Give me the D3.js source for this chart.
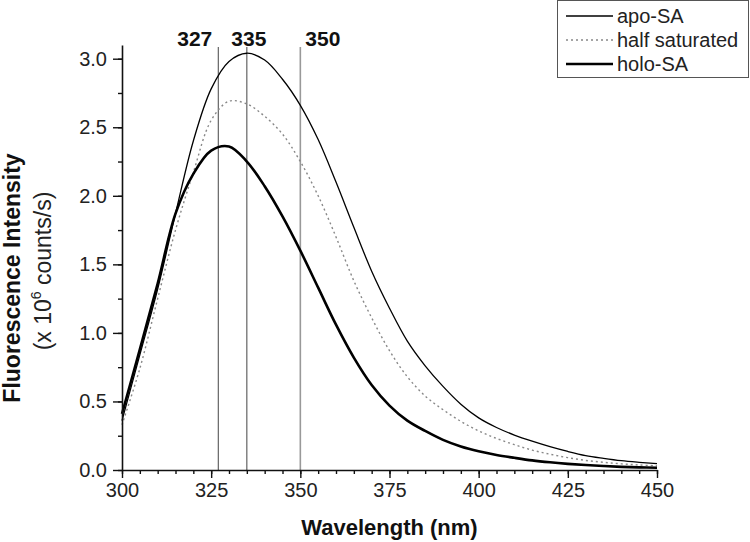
<!DOCTYPE html>
<html>
<head>
<meta charset="utf-8">
<script src="https://cdn.jsdelivr.net/npm/d3@7"></script>
<style>
  html, body { margin: 0; padding: 0; background: #fff; }
  svg { display: block; font-family: "Liberation Sans", Arial, sans-serif; }
</style>
</head>
<body>
<svg id="chart" width="750" height="542"></svg>
<script>
const wavelengths = [300,305,310,315,320,325,330,335,340,345,350,355,360,365,370,375,380,385,390,395,400,405,410,415,420,425,430,435,440,445,450];
const apoSA = [0.36,0.84,1.32,1.87,2.40,2.78,2.98,3.04,2.99,2.85,2.66,2.41,2.10,1.77,1.45,1.18,0.94,0.76,0.61,0.48,0.38,0.31,0.255,0.21,0.17,0.135,0.105,0.085,0.068,0.056,0.046];
const halfSat = [0.33,0.74,1.25,1.75,2.17,2.55,2.69,2.67,2.58,2.45,2.25,2.00,1.70,1.38,1.11,0.87,0.68,0.54,0.44,0.355,0.285,0.23,0.185,0.145,0.115,0.09,0.07,0.056,0.045,0.037,0.03];
const holoSA = [0.41,0.88,1.36,1.87,2.16,2.33,2.36,2.25,2.07,1.85,1.60,1.33,1.06,0.82,0.62,0.47,0.36,0.285,0.22,0.172,0.137,0.11,0.089,0.07,0.056,0.045,0.036,0.029,0.023,0.019,0.016];
const markerLines = [327, 335, 350];
const seriesNames = ["apo-SA", "half saturated", "holo-SA"];
const xTicks = [300,325,350,375,400,425,450];
const yTicks = [0,0.5,1.0,1.5,2.0,2.5,3.0];

const svg = d3.select("#chart");
const x = d3.scaleLinear().domain([300, 450]).range([122, 657]);
const y = d3.scaleLinear().domain([0, 3.1]).range([470, 45]);

const series = [
  {name: seriesNames[0], values: apoSA, stroke: "#000", width: 1.3, dash: null},
  {name: seriesNames[1], values: halfSat, stroke: "#888", width: 1.4, dash: "2,3"},
  {name: seriesNames[2], values: holoSA, stroke: "#000", width: 2.6, dash: null}
];

// vertical marker lines
const markerColors = ["#555", "#555", "#999"];
svg.selectAll("line.marker").data(markerLines).enter().append("line")
  .attr("class", "marker")
  .attr("x1", d => x(d)).attr("x2", d => x(d))
  .attr("y1", 47).attr("y2", y(0))
  .attr("stroke", (d, i) => markerColors[i])
  .attr("stroke-width", (d, i) => i === 2 ? 1.6 : 1.1);

// marker labels
const labelAnchor = ["end", "middle", "start"];
const labelOffset = [-6, 2, 5];
svg.selectAll("text.mlabel").data(markerLines).enter().append("text")
  .attr("class", "mlabel")
  .attr("x", (d, i) => x(d) + labelOffset[i])
  .attr("y", 46)
  .attr("text-anchor", (d, i) => labelAnchor[i])
  .attr("font-weight", "bold")
  .attr("font-size", 21)
  .attr("fill", "#111")
  .text(d => d);

// curves
const line = d3.line()
  .x((d, i) => x(wavelengths[i]))
  .y(d => y(d))
  .curve(d3.curveCatmullRom.alpha(0.5));

series.forEach(s => {
  svg.append("path")
    .datum(s.values)
    .attr("d", line)
    .attr("fill", "none")
    .attr("stroke", s.stroke)
    .attr("stroke-width", s.width)
    .attr("stroke-dasharray", s.dash);
});

// axes
const xMinor = d3.range(300, 451, 5);
const yMinor = d3.range(0, 3.01, 0.25);

const xAxis = svg.append("g").attr("transform", `translate(0,${y(0)})`);
xAxis.call(d3.axisBottom(x).tickValues(xMinor).tickSize(4).tickFormat(""))
  .call(g => g.select(".domain").remove());
xAxis.append("g").call(d3.axisBottom(x).tickValues(xTicks).tickSize(8).tickSizeOuter(0).tickPadding(5).tickFormat(d3.format("d")));
xAxis.selectAll("line").attr("stroke", "#111").attr("stroke-width", 1.4);
xAxis.selectAll(".domain").attr("stroke", "#111").attr("stroke-width", 1.6);
xAxis.selectAll("text").attr("font-size", 20).attr("fill", "#222").attr("font-family", "Liberation Sans, Arial, sans-serif");

const yAxis = svg.append("g").attr("transform", `translate(${x(300)},0)`);
yAxis.call(d3.axisLeft(y).tickValues(yMinor).tickSize(4).tickFormat(""))
  .call(g => g.select(".domain").remove());
yAxis.append("g").call(d3.axisLeft(y).tickValues(yTicks).tickSize(9).tickSizeOuter(0).tickPadding(6).tickFormat(d3.format(".1f")));
yAxis.selectAll("line").attr("stroke", "#111").attr("stroke-width", 1.4);
yAxis.selectAll(".domain").attr("stroke", "#111").attr("stroke-width", 1.6);
yAxis.selectAll("text").attr("font-size", 20).attr("fill", "#222").attr("font-family", "Liberation Sans, Arial, sans-serif");

// x-axis title
svg.append("text")
  .attr("x", (x(300) + x(450)) / 2).attr("y", 535)
  .attr("text-anchor", "middle")
  .attr("font-weight", "bold").attr("font-size", 22).attr("fill", "#111")
  .text("Wavelength (nm)");

// y-axis titles
svg.append("text")
  .attr("transform", "translate(20,278) rotate(-90)")
  .attr("text-anchor", "middle")
  .attr("font-weight", "bold").attr("font-size", 23).attr("fill", "#111")
  .text("Fluorescence Intensity");

const sub = svg.append("text")
  .attr("transform", "translate(51,271) rotate(-90)")
  .attr("text-anchor", "middle")
  .attr("font-size", 23).attr("fill", "#222");
sub.append("tspan").text("(x 10");
sub.append("tspan").attr("font-size", 14).attr("dy", -10).text("6");
sub.append("tspan").attr("dy", 10).text(" counts/s)");

// legend
const legend = svg.append("g");
legend.append("rect")
  .attr("x", 557.5).attr("y", 0.5).attr("width", 191).attr("height", 77)
  .attr("fill", "#fff").attr("stroke", "#555").attr("stroke-width", 1);
const rowY = [16, 40, 64];
series.forEach((s, i) => {
  legend.append("line")
    .attr("x1", 566).attr("x2", 613)
    .attr("y1", rowY[i]).attr("y2", rowY[i])
    .attr("stroke", s.stroke).attr("stroke-width", s.width)
    .attr("stroke-dasharray", s.dash);
  legend.append("text")
    .attr("x", 617).attr("y", rowY[i] + 7)
    .attr("font-size", 20).attr("fill", "#222")
    .text(s.name);
});
</script>
</body>
</html>
